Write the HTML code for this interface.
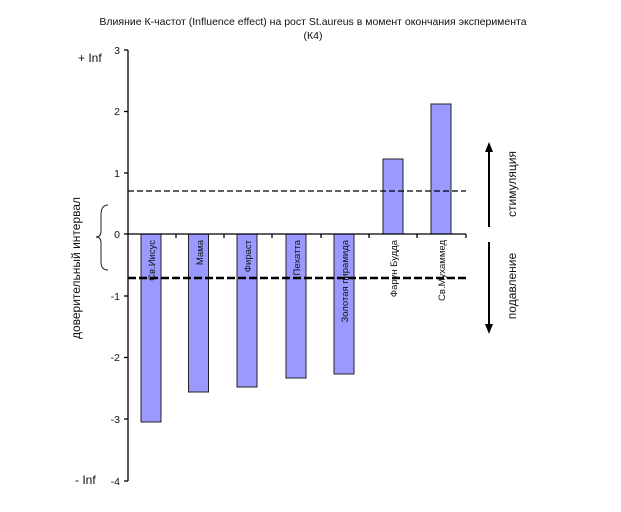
<!DOCTYPE html>
<html><head><meta charset="utf-8"><style>
html,body{margin:0;padding:0;background:#fff}
</style></head><body>
<svg width="621" height="507" xmlns="http://www.w3.org/2000/svg" font-family="Liberation Sans, DejaVu Sans, sans-serif">
<rect width="621" height="507" fill="#fff"/>
<text x="313" y="25" font-size="10.5" text-anchor="middle" fill="#111">Влияние К-частот (Influence effect) на рост St.aureus в момент окончания эксперимента</text>
<text x="313" y="39" font-size="10.5" text-anchor="middle" fill="#111">(К4)</text>
<g fill="#9999ff" stroke="#222" stroke-width="1">
<rect x="141" y="234" width="20" height="188"/>
<rect x="188.5" y="234" width="20" height="158"/>
<rect x="237" y="234" width="20" height="153"/>
<rect x="286" y="234" width="20" height="144"/>
<rect x="334" y="234" width="20" height="140"/>
<rect x="383" y="159" width="20" height="75"/>
<rect x="431" y="104" width="20" height="130"/>
</g>
<g stroke="#000" stroke-width="1.3">
<line x1="128" y1="50" x2="128" y2="481"/>
<line x1="128" y1="234" x2="466" y2="234"/>
<line x1="124" y1="50" x2="128" y2="50"/>
<line x1="124" y1="111.5" x2="128" y2="111.5"/>
<line x1="124" y1="173" x2="128" y2="173"/>
<line x1="124" y1="234" x2="128" y2="234"/>
<line x1="124" y1="296" x2="128" y2="296"/>
<line x1="124" y1="357.5" x2="128" y2="357.5"/>
<line x1="124" y1="419" x2="128" y2="419"/>
<line x1="124" y1="481" x2="128" y2="481"/>
<line x1="176" y1="234" x2="176" y2="238"/>
<line x1="224" y1="234" x2="224" y2="238"/>
<line x1="272" y1="234" x2="272" y2="238"/>
<line x1="321" y1="234" x2="321" y2="238"/>
<line x1="369" y1="234" x2="369" y2="238"/>
<line x1="417" y1="234" x2="417" y2="238"/>
<line x1="466" y1="234" x2="466" y2="238"/>
</g>
<g font-size="10.5" text-anchor="end" fill="#111">
<text x="120" y="54">3</text><text x="120" y="115">2</text><text x="120" y="177">1</text>
<text x="120" y="238">0</text><text x="120" y="300">-1</text><text x="120" y="361">-2</text>
<text x="120" y="423">-3</text><text x="120" y="485">-4</text>
</g>
<text x="78" y="62" font-size="12" fill="#111">+ Inf</text>
<text x="75" y="484" font-size="12" fill="#111">- Inf</text>
<line x1="128" y1="191" x2="466" y2="191" stroke="#000" stroke-width="1.2" stroke-dasharray="6,3"/>
<line x1="128" y1="278" x2="466" y2="278" stroke="#000" stroke-width="2.5" stroke-dasharray="8,3"/>
<g font-size="9.5" fill="#111" text-anchor="end">
<text transform="translate(155,240) rotate(-90)">Св.Иисус</text>
<text transform="translate(203,240) rotate(-90)">Мама</text>
<text transform="translate(251,240) rotate(-90)">Фираст</text>
<text transform="translate(300,240) rotate(-90)">Пехатта</text>
<text transform="translate(348,240) rotate(-90)">Золотая пирамида</text>
<text transform="translate(397,240) rotate(-90)">Фарун Будда</text>
<text transform="translate(445,240) rotate(-90)">Св.Мухаммед</text>
</g>
<text transform="translate(80,268) rotate(-90)" font-size="12" text-anchor="middle" fill="#111">доверительный интервал</text>
<path d="M108,205 Q101,205 101,215 L101,231 Q101,237 96,237 Q101,237 101,243 L101,262 Q101,270 108,270" fill="none" stroke="#222" stroke-width="1"/>
<g stroke="#000" stroke-width="2">
<line x1="489" y1="148" x2="489" y2="227"/>
<line x1="489" y1="242" x2="489" y2="328"/>
</g>
<polygon points="489,142 485,152 493,152" fill="#000"/>
<polygon points="489,334 485,324 493,324" fill="#000"/>
<g font-size="12" fill="#111" text-anchor="middle">
<text transform="translate(516,184) rotate(-90)">стимуляция</text>
<text transform="translate(516,286) rotate(-90)">подавление</text>
</g>
</svg>
</body></html>
